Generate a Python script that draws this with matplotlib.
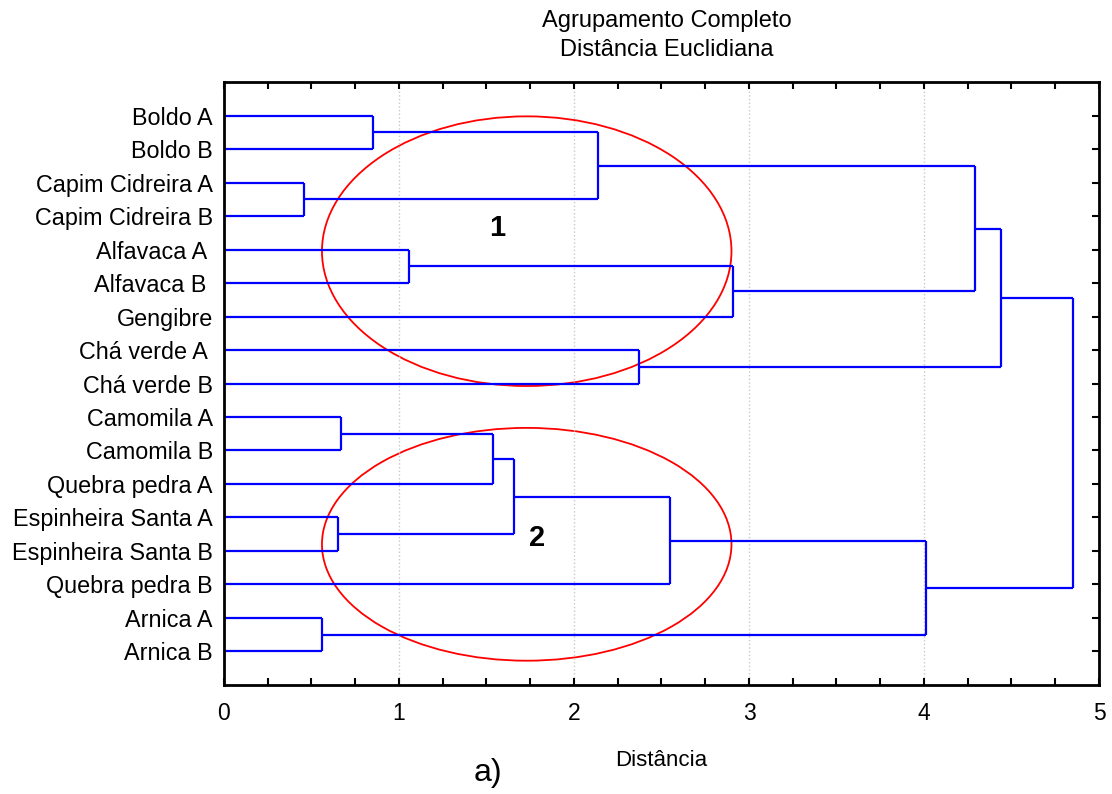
import numpy as np
import matplotlib.pyplot as plt
from matplotlib.patches import Ellipse
from matplotlib.ticker import MultipleLocator

plt.rcParams['font.family'] = ['Liberation Sans', 'DejaVu Sans']

# amostras, de cima para baixo
amostras = ["Boldo A", "Boldo B", "Capim Cidreira A", "Capim Cidreira B",
            "Alfavaca A ", "Alfavaca B ", "Gengibre", "Chá verde A ", "Chá verde B",
            "Camomila A", "Camomila B", "Quebra pedra A", "Espinheira Santa A",
            "Espinheira Santa B", "Quebra pedra B", "Arnica A", "Arnica B"]

# fusoes (grupo 1, grupo 2, distancia); indices >= 17 sao grupos ja formados
fusao_a = [0, 2, 17, 4, 20, 19, 7, 22, 9, 25, 12, 26, 28, 15, 29, 24]
fusao_b = [1, 3, 18, 5, 6, 21, 8, 23, 10, 11, 13, 27, 14, 16, 30, 31]
dist = [0.85, 0.46, 2.14, 1.06, 2.91, 4.29, 2.37, 4.44,
        0.67, 1.54, 0.65, 1.66, 2.55, 0.56, 4.01, 4.85]

n = len(amostras)
pos_y = list(range(n))
pos_x = [0.0] * n

fig = plt.figure(figsize=(11.12, 7.94), dpi=100)
ax = fig.add_axes([0.2014, 0.1373, 0.7869, 0.7594])

azul = '#0000ff'
for a, b, d in zip(fusao_a, fusao_b, dist):
    ya, yb = pos_y[a], pos_y[b]
    ax.plot([pos_x[a], d], [ya, ya], color=azul, lw=1.6, solid_capstyle='butt')
    ax.plot([pos_x[b], d], [yb, yb], color=azul, lw=1.6, solid_capstyle='butt')
    ax.plot([d, d], [ya, yb], color=azul, lw=1.6, solid_capstyle='butt')
    pos_y.append((ya + yb) / 2)
    pos_x.append(d)

# grupos destacados
ax.add_patch(Ellipse((1.73, 4.05), 2.34, 8.05, fill=False, ec='#ff0000', lw=1.3))
ax.add_patch(Ellipse((1.73, 12.8), 2.34, 6.95, fill=False, ec='#ff0000', lw=1.3))
ax.text(1.56, 3.35, "1", fontsize=21, fontweight='bold', ha='center', va='center')
ax.text(1.79, 12.6, "2", fontsize=21, fontweight='bold', ha='center', va='center')

ax.set_xlim(0, 5)
ax.set_ylim(n, -1)
ax.set_yticks(range(n))
ax.set_yticklabels(amostras)
ax.xaxis.set_major_locator(MultipleLocator(1))
ax.xaxis.set_minor_locator(MultipleLocator(0.25))
ax.tick_params(axis='x', which='both', direction='in', top=True, length=5, width=1.5, labelsize=16.5, pad=12)
ax.tick_params(axis='y', left=False, right=True, direction='in', length=5, width=1.5, labelsize=16.8, pad=8)
ax.tick_params(axis='y', labelright=False)
ax.grid(axis='x', which='major', color='#c8c8c8', ls=':', lw=1)
for s in ax.spines.values():
    s.set_linewidth(2)

ax.set_xlabel("Distância", fontsize=16, labelpad=18)
fig.text(0.5995, 0.974, "Agrupamento Completo", ha='center', va='center', fontsize=17)
fig.text(0.5995, 0.937, "Distância Euclidiana", ha='center', va='center', fontsize=17)
fig.text(0.439, 0.027, "a)", ha='center', va='center', fontsize=23)

fig.savefig("out.png", dpi=100)
